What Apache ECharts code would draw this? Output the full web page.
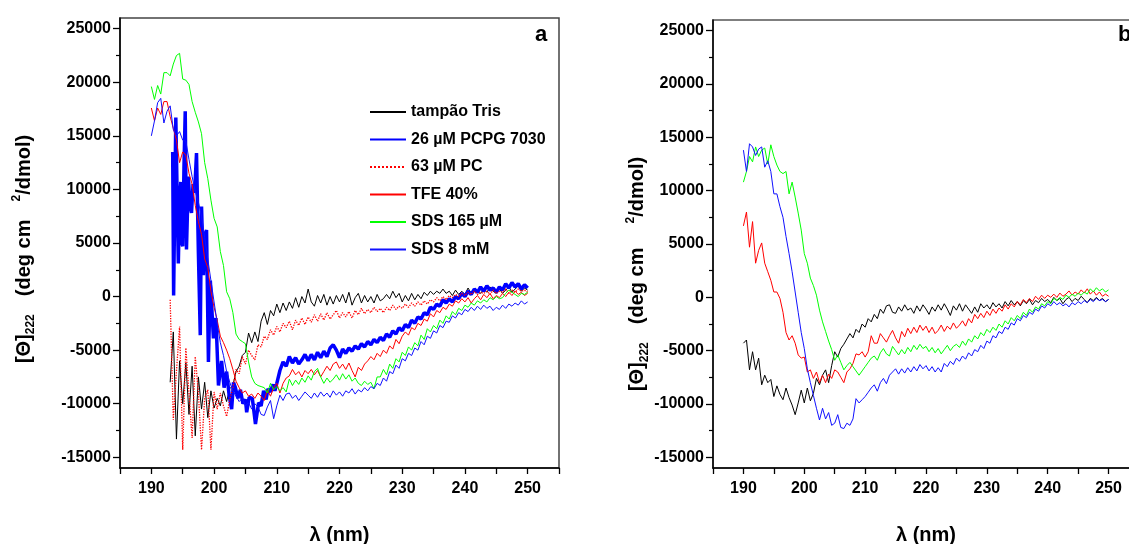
<!DOCTYPE html>
<html><head><meta charset="utf-8">
<script src="https://cdn.jsdelivr.net/npm/echarts@6/dist/echarts.min.js"></script>
<style>html,body{margin:0;padding:0;background:#fff}#c{width:1129px;height:544px}</style>
</head><body><div id="c"></div>
<script>
// ---------- data (mean residue ellipticity, deg cm2/dmol), wavelength step 0.5 nm ----------
const seriesNames = ['tampão Tris', '26 µM PCPG 7030', '63 µM PC', 'TFE 40%', 'SDS 165 µM', 'SDS 8 mM'];
const xTickLabels = [190, 200, 210, 220, 230, 240, 250];
const yTickLabels = [-15000, -10000, -5000, 0, 5000, 10000, 15000, 20000, 25000];
const yMinorTicks = [-12500, -7500, -2500, 2500, 7500, 12500, 17500, 22500];

// Panel a
const aTrisStart = 193.0;
const aTris = [-8000,-3300,-13300,-6000,-10000,-6200,-11000,-6500,-13000,-7500,-10500,-8000,-11300,-8800,-10400,-9500,-10200,-8800,-9800,-8600,
 -8300,-7000,-6500,-5500,-5200,-3400,-4300,-3300,-4200,-2300,-1500,-2600,-1300,-1800,-700,-1500,-600,-1300,-500,-1100,
 -100,-1000,0,-600,700,-500,-900,100,-600,200,-800,0,-700,100,-500,200,-600,400,-800,-100,
 300,-600,100,-500,0,-600,200,-400,-200,200,-200,500,-100,300,-500,100,-400,300,-300,200,
 -200,400,100,500,200,500,300,700,300,500,100,600,200,500,200,800,300,700,400,300,
 700,400,900,500,300,700,300,600,900,400,700,1000,500,800,600];

const aPcpgEarly = [[193.4,13500],[193.55,100],[193.9,16700],[194.3,3100],[194.5,9000],[194.7,10700],[194.85,5000],[195.0,4700],[195.2,12000],[195.4,17300],
 [195.6,4400],[195.9,11200],[196.15,8500],[196.4,7800],[196.65,10500],[196.9,9700],[197.2,13400],[197.5,4100],[197.8,-3600],[198.0,8400],
 [198.3,2000],[198.6,5900],[198.8,6200],[199.1,-6100],[199.4,1500],[199.9,-3900],[200.3,-2000],[200.7,-8300],[201.2,-6000],[201.6,-8500],
 [202.0,-7000],[202.4,-9200],[202.8,-10500],[203.1,-8000],[203.4,-8500],[203.8,-9500],[204.2,-8700],[204.6,-10000],[205.0,-9600],[205.2,-10800],
 [205.6,-9400],[206.1,-9500],[206.6,-11900],[207.1,-9900],[207.5,-10200],[207.9,-8800],[208.3,-9600],[208.6,-8600],[209.0,-8900],[209.4,-8200],
 [209.7,-8800],[210.0,-8100]];
const aPcpgStart = 210.5;
const aPcpg = [-6900,-6100,-6500,-5600,-6200,-5700,-6300,-5900,-5400,-6000,-5400,-5900,-5200,-5700,-5100,-5600,-4800,-4500,-5000,-5700,
 -4900,-5300,-4800,-5100,-4600,-4900,-4400,-4700,-4200,-4500,-4000,-4300,-3800,-4100,-3500,-3800,-3200,-3500,-2900,-3200,
 -2600,-2900,-2200,-2500,-1900,-2100,-1500,-1700,-1000,-1200,-700,-900,-300,-600,-200,-500,0,-200,300,0,
 500,200,700,400,900,500,1000,600,800,400,900,600,1200,800,1300,900,1200,700,1100,800];

const aPcStart = 193.0;
const aPc = [-300,-11500,-7000,-2800,-14300,-4800,-9000,-13200,-5600,-9000,-14300,-9500,-8700,-14300,-8900,-10500,-9000,-10200,-11200,-9600,
 -8500,-6800,-7200,-5600,-6300,-5000,-5500,-5900,-4500,-4700,-3700,-4000,-3100,-3600,-2800,-3300,-2500,-2900,-2300,-3100,
 -2200,-2700,-2000,-2600,-1900,-2400,-1700,-2300,-1600,-2200,-1500,-2100,-1700,-1300,-2000,-1500,-1900,-1400,-2000,-1300,
 -1700,-1100,-1600,-1200,-1500,-1000,-1400,-1100,-1500,-1000,-1300,-800,-1200,-900,-1100,-700,-1000,-600,-900,-500,
 -800,-400,-700,-300,-500,-100,-400,0,-300,100,-100,200,0,300,100,400,200,500,200,400,
 300,500,200,600,300,500,400,700,300,600,400,700,500,600,400];

const aTfeStart = 190.0;
const aTfe = [17600,16400,17600,17000,18200,18200,16800,15700,14600,12500,13500,13200,11500,10500,8500,7000,5800,3500,2700,500,
 -1000,-2200,-3700,-4300,-5000,-5800,-6800,-7900,-8500,-9000,-8800,-9300,-9100,-9500,-9000,-9300,-9700,-8700,-9300,-8500,
 -8100,-9000,-8100,-7600,-7400,-6800,-7300,-7000,-7500,-6900,-7200,-6800,-7300,-6900,-7500,-7000,-6500,-6900,-6300,-6100,
 -6700,-6300,-6800,-6200,-6900,-7500,-6600,-6900,-6300,-6000,-5600,-5900,-5300,-5600,-5000,-5300,-4600,-4900,-4000,-4400,
 -3700,-3300,-3600,-2900,-3100,-2500,-2700,-2100,-2300,-1600,-1900,-1300,-1500,-1000,-1200,-700,-900,-400,-600,-200,
 -500,-100,-600,-200,100,-300,200,-100,300,-200,100,-100,300,0,400,100,500,200,400,100,300];

const aSds165Start = 190.0;
const aSds165 = [19600,18400,19700,18900,20900,20900,20600,21700,22500,22700,20300,20200,19800,18200,17200,16300,15200,12500,11000,9000,
 7300,6500,4200,2900,450,-200,-1500,-3500,-4000,-4200,-4400,-6100,-7500,-8100,-8300,-8400,-8500,-9000,-8100,-8700,
 -8400,-8800,-8500,-8900,-7700,-8300,-7800,-8200,-7600,-8000,-7400,-7800,-7000,-6700,-7500,-8100,-7600,-8000,-7700,-7300,
 -7800,-7200,-7700,-7300,-7900,-7600,-8100,-8300,-7900,-8200,-8000,-8600,-7500,-7500,-6800,-7300,-6300,-6700,-5800,-6100,
 -5200,-5500,-4700,-5000,-4300,-4600,-3600,-4000,-3000,-3300,-2700,-3000,-2200,-2500,-1800,-2100,-1400,-1700,-1100,-1300,
 -800,-1000,-600,-800,-400,-600,-300,-500,-100,-300,0,-200,-100,300,600,400,200,0,300,200,400];

const aSds8Start = 190.0;
const aSds8 = [15000,16400,18100,18500,16200,17300,17800,15600,15000,15400,14600,14500,12800,11200,9800,8800,7500,5500,3500,1500,
 -500,-2500,-4300,-5500,-7000,-8000,-8800,-9300,-9800,-9500,-10200,-9900,-10500,-10000,-10300,-11000,-11100,-10300,-9700,-11400,
 -10200,-9200,-9700,-9100,-9000,-9500,-9200,-9700,-9300,-8900,-9200,-9500,-9000,-9400,-8900,-9300,-9000,-9400,-8800,-9200,
 -8900,-9300,-8800,-9000,-8600,-9100,-8700,-8900,-8500,-8800,-8400,-8600,-8100,-8300,-7600,-7900,-7000,-7200,-6400,-6700,
 -5800,-6000,-5300,-5500,-4800,-5000,-4200,-4500,-3700,-3900,-3200,-3400,-2700,-2900,-2300,-2400,-1800,-2000,-1500,-1700,
 -1200,-1400,-1000,-1300,-900,-1200,-800,-1100,-900,-1300,-1000,-1200,-800,-1100,-700,-900,-600,-800,-400,-700,-500];

// Panel b
const bStart = 190.0;
const bTris = [-4300,-4000,-6800,-5100,-6800,-5700,-8200,-7300,-8000,-7700,-9300,-8300,-9100,-9600,-8500,-9400,-10100,-11000,-9900,-8700,
 -9900,-8500,-9700,-9000,-7600,-8200,-7300,-6800,-8000,-6400,-5100,-5600,-4800,-4400,-3900,-3400,-3800,-3000,-3300,-2500,
 -2800,-2000,-2300,-1600,-2000,-1100,-1500,-800,-700,-1400,-1500,-900,-1300,-700,-1200,-1000,-1500,-800,-1300,-700,
 -1100,-1600,-900,-1300,-700,-1200,-600,-1100,-1700,-800,-1200,-600,-1300,-700,-1100,-1500,-900,-1400,-600,-1000,
 -700,-1100,-500,-900,-600,-1000,-400,-800,-300,-700,-400,-800,-300,-600,-200,-700,-300,-500,-100,-400,
 -200,-500,0,-300,-100,-600,-200,0,-400,-100,-300,100,-200,-500,-100,-300,0,-300,-100,-400,-200];
const bTfe = [6700,8000,4700,7100,3200,4400,5100,3200,2400,1600,500,500,-100,-1400,-3300,-4000,-3600,-4300,-5400,-5700,
 -5600,-7000,-6800,-7600,-7000,-8000,-7300,-8000,-7200,-7600,-6800,-7000,-7500,-8000,-7000,-6700,-6200,-5300,-5400,-5100,
 -5600,-5100,-3600,-4300,-4300,-3400,-3800,-4200,-3600,-3100,-3800,-4300,-3200,-3700,-2900,-3400,-2800,-3300,-2600,-3100,
 -2700,-3300,-2800,-3400,-3100,-2600,-3200,-2700,-3000,-2400,-2900,-2600,-2200,-2700,-2000,-2400,-1600,-2000,-1500,-1900,
 -1300,-1700,-1100,-1500,-1000,-1300,-700,-1100,-600,-900,-400,-700,-200,-500,-100,-400,100,-200,200,-100,
 200,0,300,0,400,100,300,600,200,500,300,700,400,800,300,600,200,500,100,300,100];
const bSds165 = [10800,11800,13200,12700,14100,13200,13800,14000,12500,14300,13200,12400,11800,11600,11800,9700,10800,9400,7900,6300,
 4100,3200,1800,1100,200,-1200,-2300,-3200,-4100,-4900,-5900,-5400,-6100,-6800,-6400,-6100,-6500,-6900,-7300,-6900,
 -6500,-6100,-5700,-5500,-5900,-5200,-4800,-5300,-5500,-4600,-5000,-5400,-4900,-5300,-4700,-5100,-4500,-4900,-4400,-4800,
 -4600,-5100,-4700,-5200,-4800,-5300,-4900,-4500,-5000,-4600,-4400,-4700,-4100,-4500,-3900,-4200,-3600,-3900,-3300,-3600,
 -3000,-3300,-2800,-3100,-2500,-2800,-2200,-2500,-1900,-2200,-1700,-2000,-1400,-1700,-1100,-1400,-900,-1100,-600,-800,
 -400,-600,-100,-300,0,-200,200,0,300,100,400,200,500,300,800,500,900,600,800,500,700];
const bSds8 = [13800,11800,14400,14100,13300,13900,14100,12200,12800,11800,9700,9700,8500,7500,5700,4100,2400,500,-1400,-3300,
 -4800,-6700,-8000,-9200,-10400,-11500,-10400,-11400,-10800,-12000,-11800,-11000,-12200,-12300,-11800,-12000,-11400,-9500,-9900,-9600,
 -9300,-8900,-8500,-8200,-8800,-8000,-7600,-8100,-7300,-7000,-6700,-7200,-6700,-7100,-6600,-7000,-6500,-6900,-6300,-6700,
 -6400,-6900,-6500,-7000,-6600,-7000,-6200,-6500,-6000,-6300,-5700,-6000,-5500,-5800,-5200,-5500,-4900,-5100,-4500,-4800,
 -4100,-4300,-3600,-3800,-3200,-3400,-2800,-3000,-2400,-2600,-2000,-2200,-1700,-1900,-1400,-1600,-1100,-1300,-800,-1000,
 -600,-800,-400,-700,-500,-800,-600,-900,-500,-700,-400,-600,-300,-500,-200,-400,-100,-300,-200,-400,-200];

// ---------- helpers ----------
const STEP = 0.5;
function pairs(start, vals) { return vals.map((v, i) => [+(start + i * STEP).toFixed(2), v]); }

const FONT = '"Liberation Sans", Arial, sans-serif';
const colors = { tris: '#000000', pcpg: '#0000ff', pc: '#ff0000', tfe: '#ff0000', sds165: '#00ff00', sds8: '#1010ff' };

function xAxisCfg(gi) {
  return {
    type: 'value', gridIndex: gi, min: 185, max: 255, interval: 5,
    name: 'λ (nm)', nameLocation: 'middle', nameGap: 57,
    nameTextStyle: { fontFamily: FONT, fontWeight: 'bold', fontSize: 20, color: '#000' },
    axisLine: { show: true, onZero: false, lineStyle: { color: '#000', width: 1.5 } },
    axisTick: { show: true, inside: false, length: 6, lineStyle: { color: '#000', width: 1.3 } },
    axisLabel: { show: true, margin: 13, fontFamily: FONT, fontWeight: 'bold', fontSize: 16, color: '#000',
      formatter: v => (xTickLabels.indexOf(v) >= 0 ? String(v) : '') },
    splitLine: { show: false }
  };
}
function yMainCfg(gi, gap, shift) {
  return {
    type: 'value', gridIndex: gi, min: -16000, max: 26000, position: 'left',
    name: '{b|[Θ]}{s|222}{sp|}{b|(deg cm}{sp2|}{p|2}{b|/dmol)}{g' + gi + '|}',
    nameLocation: 'middle', nameGap: gap, nameRotate: 90,
    nameTextStyle: {
      fontFamily: FONT, fontWeight: 'bold', fontSize: 20, color: '#000',
      rich: {
        b: { fontFamily: FONT, fontWeight: 'bold', fontSize: 20, color: '#000', lineHeight: 26 },
        s: { fontFamily: FONT, fontWeight: 'bold', fontSize: 12, color: '#000', lineHeight: 12, verticalAlign: 'bottom' },
        p: { fontFamily: FONT, fontWeight: 'bold', fontSize: 12, color: '#000', lineHeight: 12, verticalAlign: 'top' },
        sp: { width: 18 }, sp2: { width: shift.sp2 },
        g0: { width: shift.g }, g1: { width: shift.g }
      }
    },
    axisLine: { show: true, onZero: false, lineStyle: { color: '#000', width: 1.5 } },
    axisTick: { show: true, length: 7, customValues: yTickLabels, lineStyle: { color: '#000', width: 1.3 } },
    axisLabel: { show: true, margin: 9, customValues: yTickLabels, fontFamily: FONT, fontWeight: 'bold', fontSize: 16, color: '#000',
      formatter: v => String(v) },
    splitLine: { show: false }
  };
}
function yMinorCfg(gi) {
  return {
    type: 'value', gridIndex: gi, min: -16000, max: 26000, position: 'left',
    axisLine: { show: false },
    axisTick: { show: true, length: 4, customValues: yMinorTicks, lineStyle: { color: '#000', width: 1.2 } },
    axisLabel: { show: false }, splitLine: { show: false }
  };
}
function line(name, data, xi, yi, color, width, type, z) {
  return { type: 'line', name, data, xAxisIndex: xi, yAxisIndex: yi, showSymbol: false, symbol: 'none',
    lineStyle: { color, width, type: type || 'solid' }, itemStyle: { color }, z: z || 2, silent: true, clip: true };
}

const chart = echarts.init(document.getElementById('c'), null, { renderer: 'canvas' });
chart.setOption({
  animation: false,
  backgroundColor: '#ffffff',
  grid: [
    { left: 120, right: 570, top: 18, bottom: 76, show: true, borderColor: '#444', borderWidth: 1.5, backgroundColor: 'transparent', outerBoundsMode: 'none', containLabel: false },
    { left: 713, right: -10, top: 20, bottom: 76, show: true, borderColor: '#555', borderWidth: 1.5, backgroundColor: 'transparent', outerBoundsMode: 'none', containLabel: false }
  ],
  xAxis: [xAxisCfg(0), xAxisCfg(1)],
  yAxis: [yMainCfg(0, 83, { g: 12, sp2: 18 }), yMinorCfg(0), yMainCfg(1, 61, { g: 60, sp2: 24 }), yMinorCfg(1)],
  legend: {
    data: seriesNames, orient: 'vertical', left: 369, top: 104, padding: 0,
    itemWidth: 36, itemHeight: 14, itemGap: 11.5, selectedMode: false,
    itemStyle: { opacity: 0 },
    textStyle: { fontFamily: FONT, fontWeight: 'bold', fontSize: 16, color: '#000' }
  },
  graphic: [
    { type: 'text', left: 535, top: 24, style: { text: 'a', fontFamily: FONT, fontWeight: 'bold', fontSize: 22, fill: '#000' } },
    { type: 'text', left: 1118, top: 24, style: { text: 'b', fontFamily: FONT, fontWeight: 'bold', fontSize: 22, fill: '#000' } }
  ],
  series: [
    line(seriesNames[0], pairs(aTrisStart, aTris), 0, 0, colors.tris, 1),
    line(seriesNames[1], aPcpgEarly.concat(pairs(aPcpgStart, aPcpg)), 0, 0, colors.pcpg, 3.5),
    line(seriesNames[2], pairs(aPcStart, aPc), 0, 0, colors.pc, 1.3, 'dotted'),
    line(seriesNames[3], pairs(aTfeStart, aTfe), 0, 0, colors.tfe, 1),
    line(seriesNames[4], pairs(aSds165Start, aSds165), 0, 0, colors.sds165, 1),
    line(seriesNames[5], pairs(aSds8Start, aSds8), 0, 0, colors.sds8, 1),
    line(seriesNames[0], pairs(bStart, bTris), 1, 2, colors.tris, 1),
    line(seriesNames[3], pairs(bStart, bTfe), 1, 2, colors.tfe, 1),
    line(seriesNames[4], pairs(bStart, bSds165), 1, 2, colors.sds165, 1),
    line(seriesNames[5], pairs(bStart, bSds8), 1, 2, colors.sds8, 1)
  ]
});
</script>
</body></html>
